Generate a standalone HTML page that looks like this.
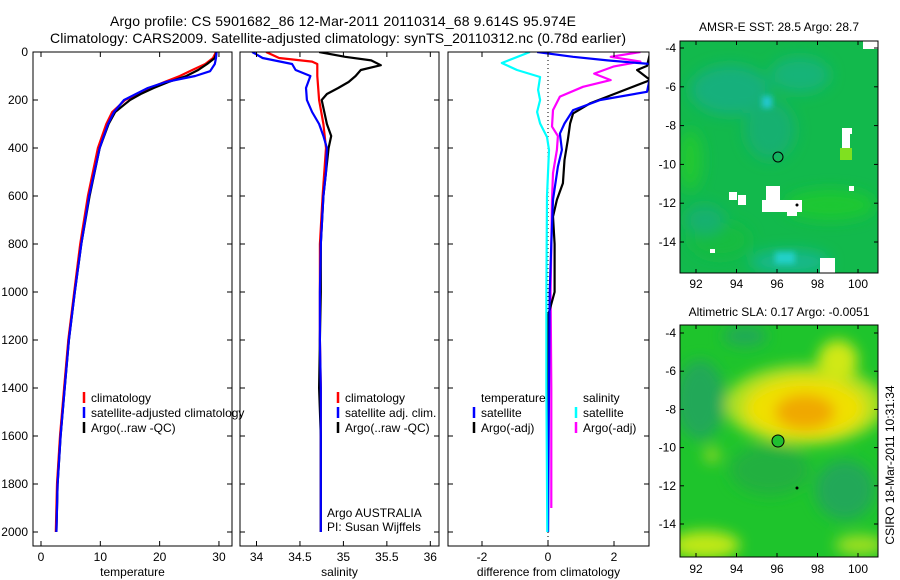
<!DOCTYPE html>
<html><head><meta charset="utf-8"><style>
body{margin:0;background:#fff}
svg{display:block;font-family:"Liberation Sans",sans-serif}
</style></head><body>
<svg id="fig" width="900" height="580" viewBox="0 0 900 580">
<text x="343" y="26" font-size="14" text-anchor="middle" textLength="466">Argo profile: CS 5901682_86 12-Mar-2011 20110314_68 9.614S 95.974E</text>
<text x="338" y="43" font-size="14" text-anchor="middle" textLength="576">Climatology: CARS2009. Satellite-adjusted climatology: synTS_20110312.nc (0.78d earlier)</text>
<g id="panels"></g>
<defs>
<clipPath id="c1"><rect x="680" y="41" width="198" height="232"/></clipPath>
<clipPath id="c2"><rect x="680" y="325" width="198" height="232"/></clipPath>
<filter id="bl" x="-50%" y="-50%" width="200%" height="200%"><feGaussianBlur stdDeviation="7"/></filter>
<filter id="bs" x="-50%" y="-50%" width="200%" height="200%"><feGaussianBlur stdDeviation="3"/></filter>
</defs>
<g clip-path="url(#c1)">
<rect x="680" y="41" width="198" height="232" fill="#12b94c"/>
<g filter="url(#bl)">
<ellipse cx="730" cy="90" rx="40" ry="25" fill="#12b07c"/>
<ellipse cx="800" cy="75" rx="30" ry="18" fill="#14b478"/>
<ellipse cx="770" cy="130" rx="25" ry="30" fill="#14b070"/>
<ellipse cx="690" cy="160" rx="12" ry="30" fill="#22c830"/>
<ellipse cx="830" cy="205" rx="45" ry="15" fill="#1cc830"/>
<ellipse cx="720" cy="240" rx="30" ry="18" fill="#18bc40"/>
<ellipse cx="790" cy="262" rx="40" ry="12" fill="#14b88c"/>
<ellipse cx="705" cy="220" rx="20" ry="15" fill="#14b070"/>
</g>
<rect x="762" y="96" width="10" height="12" fill="#20c8d0" filter="url(#bs)"/>
<rect x="775" y="252" width="20" height="12" fill="#20d0c8" filter="url(#bs)"/>
<rect x="840" y="148" width="12" height="12" fill="#80e020"/>
<g fill="#fff">
<rect x="842" y="128" width="8" height="20"/><rect x="848" y="128" width="4" height="6"/>
<rect x="766" y="186" width="14" height="24"/><rect x="762" y="200" width="40" height="12"/><rect x="787" y="200" width="10" height="16"/>
<rect x="729" y="192" width="8" height="8"/><rect x="738" y="195" width="8" height="10"/>
<rect x="820" y="258" width="15" height="15"/><rect x="849" y="186" width="5" height="5"/>
<rect x="710" y="249" width="5" height="4"/><rect x="863" y="41" width="15" height="8"/>
</g>
<circle cx="797" cy="205" r="1.5" fill="#000"/>
<circle cx="778" cy="157" r="5" fill="none" stroke="#000" stroke-width="1"/>
</g>
<rect x="680" y="41" width="198" height="232" fill="none" stroke="#000"/>
<text x="779" y="31" font-size="12" text-anchor="middle">AMSR-E SST: 28.5 Argo: 28.7</text>
<g clip-path="url(#c2)">
<rect x="680" y="325" width="198" height="232" fill="#1ec42c"/>
<g filter="url(#bl)">
<ellipse cx="700" cy="400" rx="25" ry="40" fill="#20a858"/>
<ellipse cx="745" cy="336" rx="22" ry="10" fill="#20a858"/>
<ellipse cx="845" cy="490" rx="30" ry="30" fill="#20a858"/>
<ellipse cx="770" cy="470" rx="40" ry="25" fill="#22b040"/>
<ellipse cx="805" cy="405" rx="80" ry="40" fill="#b0e020"/>
<ellipse cx="838" cy="360" rx="20" ry="20" fill="#d0e818"/>
<ellipse cx="805" cy="408" rx="60" ry="30" fill="#f0e000"/>
<ellipse cx="805" cy="412" rx="30" ry="18" fill="#f0a800"/>
<ellipse cx="705" cy="545" rx="35" ry="14" fill="#c0e818"/>
<ellipse cx="712" cy="455" rx="8" ry="8" fill="#90d820"/>
<ellipse cx="860" cy="545" rx="25" ry="10" fill="#a0e020"/>
</g>
<circle cx="797" cy="488" r="1.5" fill="#000"/>
<circle cx="778" cy="441" r="6" fill="#20c030" stroke="#000" stroke-width="1"/>
</g>
<rect x="680" y="325" width="198" height="232" fill="none" stroke="#000"/>
<text x="779" y="316" font-size="12" text-anchor="middle">Altimetric SLA: 0.17 Argo: -0.0051</text>
<text transform="translate(894,465) rotate(-90)" font-size="12" text-anchor="middle">CSIRO 18-Mar-2011 10:31:34</text>
<g id="mapticks"></g>
</svg>
<script>
const NS='http://www.w3.org/2000/svg';
const tempTicks=[0,10,20,30];
const salTicks=[34,34.5,35,35.5,36];
const diffTicks=[-2,0,2];
const depthTicks=[0,200,400,600,800,1000,1200,1400,1600,1800,2000];
// temperature
const tClimD=[0,25,50,75,100,125,150,175,200,250,300,400,600,800,1000,1200,1400,1600,1800,2000];
const tClimV=[29.5,29,27.7,25.5,23.4,20.8,18.4,16.2,14.2,12,11,9.6,7.9,6.6,5.6,4.6,3.9,3.2,2.7,2.5];
const tSatD=[0,25,50,80,100,125,150,175,200,250,300,400,600,800,1000,1200,1400,1600,1800,2000];
const tSatV=[29.6,29.5,29.3,28.5,26,21,18,16,14,12.3,11.3,9.9,8.1,6.8,5.7,4.7,4.0,3.3,2.8,2.6];
const tArgD=[0,25,50,75,100,125,150,175,200,250,300,400,600,800,1000,1200,1400,1600,1800,2000];
const tArgV=[29.6,29.3,28,26.5,24.5,21.5,19,16.8,15,12.5,11.4,9.9,8.2,6.8,5.7,4.7,4.0,3.3,2.8,2.6];
// salinity
const sClimD=[0,25,40,50,100,200,300,400,600,800,1000,1200,1400,1600,1800,2000];
const sClimV=[34.11,34.26,34.64,34.7,34.7,34.72,34.77,34.8,34.76,34.73,34.73,34.73,34.74,34.74,34.74,34.74];
const sSatD=[0,25,50,75,100,150,200,250,300,350,400,500,600,800,1000,1200,1400,1600,1800,2000];
const sSatV=[33.95,34.07,34.41,34.45,34.62,34.57,34.58,34.64,34.72,34.77,34.81,34.8,34.77,34.74,34.73,34.73,34.74,34.74,34.74,34.74];
const sArgD=[0,20,35,55,75,100,125,150,175,200,300,350,400,500,600,800,1000,1200,1400,1600,1800,2000];
const sArgV=[34.72,35.02,35.32,35.43,35.2,35.14,35.06,34.94,34.81,34.75,34.81,34.86,34.83,34.8,34.77,34.74,34.74,34.73,34.72,34.74,34.74,34.74];
// differences
const dTSatD=[0,20,35,50,100,166,200,242,298,340,408,477,616,800,1000,1400,2000];
const dTSatV=[-0.33,0.76,1.8,3.1,3.1,3.0,1.58,0.76,0.5,0.36,0.42,0.3,0.15,0.1,0.05,0.03,0.0];
const dTArgD=[0,58,75,117,186,214,256,298,367,450,547,616,686,800,1000,1100,1400,2000];
const dTArgV=[3.1,3.0,2.7,3.1,1.8,1.27,0.76,0.67,0.6,0.5,0.45,0.27,0.15,0.2,0.2,0.0,0.0,0.0];
const dSSatD=[0,46,75,104,158,200,250,298,354,408,600,1000,1400,2000];
const dSSatV=[-0.55,-1.4,-0.94,-0.24,-0.3,-0.24,-0.33,-0.24,-0.03,0.03,-0.03,-0.05,-0.05,-0.02];
const dSArgD=[0,20,40,60,90,117,145,186,242,311,350,408,505,616,1000,1400,1900];
const dSArgV=[2.8,1.9,2.8,2.0,1.4,1.9,1.06,0.36,0.15,0.12,0.3,0.27,0.15,0.12,0.08,0.1,0.1];
// maps
const mapLon=[92,94,96,98,100];
const mapLat=[-4,-6,-8,-10,-12,-14];

const svg=document.getElementById('panels');
const Y0=52,Y1=546,DMAX=2000,YD=532;
const yScale=d=>Y0+d*(YD-Y0)/DMAX;
function mk(tag,attrs,parent){const e=document.createElementNS(NS,tag);for(const k in attrs)e.setAttribute(k,attrs[k]);(parent||svg).appendChild(e);return e;}
function panel(name,x0,x1,xmin,xmax,ticks,label,series){
  const g=mk('g',{});
  
  
  const xs=v=>x0+(v-xmin)*(x1-x0)/(xmax-xmin);
  const cp=mk('clipPath',{id:'cp-'+name},g);mk('rect',{x:x0,y:Y0,width:x1-x0,height:Y1-Y0},cp);
  const lg=mk('g',{'clip-path':'url(#cp-'+name+')'},g);
  series.forEach(s=>{
    if(s.dotted){const l=mk('line',{x1:xs(0),x2:xs(0),y1:Y0,y2:Y1,stroke:'#000','stroke-dasharray':'1,3','stroke-width':1},lg);return;}
    const pts=s.d.map((d,i)=>xs(s.v[i]).toFixed(1)+','+yScale(d).toFixed(1)).join(' ');
    const p=mk('polyline',{points:pts,fill:'none',stroke:s.c,'stroke-width':2.2,'stroke-linejoin':'round'},lg);
    
    
  });
  mk('rect',{x:x0,y:Y0,width:x1-x0,height:Y1-Y0,fill:'none',stroke:'#000','stroke-width':1},g);
  ticks.forEach(t=>{const x=xs(t);
    mk('line',{x1:x,x2:x,y1:Y1,y2:Y1-5,stroke:'#000'},g);mk('line',{x1:x,x2:x,y1:Y0,y2:Y0+5,stroke:'#000'},g);
    const tx=mk('text',{x:x,y:561,'font-size':12,'text-anchor':'middle'},g);tx.textContent=t;
    
    
  });
  depthTicks.forEach(d=>{const y=yScale(d);
    mk('line',{x1:x0,x2:x0+5,y1:y,y2:y,stroke:'#000'},g);mk('line',{x1:x1,x2:x1-5,y1:y,y2:y,stroke:'#000'},g);
  });
  const al=mk('text',{x:(x0+x1)/2,y:576,'font-size':12,'text-anchor':'middle'},g);al.textContent=label;
  
  
  return g;
}
panel('temperature',33,232,-1.35,32.2,tempTicks,'temperature',[
 {d:tClimD,v:tClimV,c:'#f00',n:'temp-climatology-line'},{d:tArgD,v:tArgV,c:'#000',n:'temp-argo-line'},{d:tSatD,v:tSatV,c:'#00f',n:'temp-satellite-line'}]);
panel('salinity',240,439,33.81,36.1,salTicks,'salinity',[
 {d:sClimD,v:sClimV,c:'#f00',n:'sal-climatology-line'},{d:sArgD,v:sArgV,c:'#000',n:'sal-argo-line'},{d:sSatD,v:sSatV,c:'#00f',n:'sal-satellite-line'}]);
panel('difference',448,649,-3.03,3.06,diffTicks,'difference from climatology',[
 {dotted:true},{d:dSArgD,v:dSArgV,c:'#f0f',n:'sal-argo-diff-line'},{d:dTArgD,v:dTArgV,c:'#000',n:'temp-argo-diff-line'},{d:dTSatD,v:dTSatV,c:'#00f',n:'temp-satellite-diff-line'},{d:dSSatD,v:dSSatV,c:'#0ff',n:'sal-satellite-diff-line'}]);
depthTicks.forEach(d=>{const t=mk('text',{x:28,y:yScale(d)+4,'font-size':12,'text-anchor':'end'});t.textContent=d;
 
 });
function legend(x,y,items){items.forEach((it,i)=>{
  const yy=y+i*15;
  if(it.c){mk('line',{x1:x,x2:x,y1:yy-10,y2:yy+1,stroke:it.c,'stroke-width':2.5});}
  const t=mk('text',{x:x+7,y:yy,'font-size':12});t.textContent=it.t;
  
  
});}
legend(84,402,[{c:'#f00',t:'climatology'},{c:'#00f',t:'satellite-adjusted climatology'},{c:'#000',t:'Argo(..raw -QC)'}]);
legend(338,402,[{c:'#f00',t:'climatology'},{c:'#00f',t:'satellite adj. clim.'},{c:'#000',t:'Argo(..raw -QC)'}]);
legend(474,402,[{t:'temperature'},{c:'#00f',t:'satellite'},{c:'#000',t:'Argo(-adj)'}]);
legend(576,402,[{t:'salinity'},{c:'#0ff',t:'satellite'},{c:'#f0f',t:'Argo(-adj)'}]);
const a1=mk('text',{x:327,y:517,'font-size':12});a1.textContent='Argo AUSTRALIA';


const a2=mk('text',{x:327,y:531,'font-size':12});a2.textContent='PI: Susan Wijffels';


// map ticks
const mt=document.getElementById('mapticks');
const lonX=l=>696+(l-92)*20.25;
[[41,273,48,19.4,288],[325,557,333,19.1,573]].forEach(m=>{
  const [top,bot,y4,py,ly]=m;
  mapLon.forEach(l=>{const x=lonX(l);
    mk('line',{x1:x,x2:x,y1:bot,y2:bot-4,stroke:'#000'},mt);mk('line',{x1:x,x2:x,y1:top,y2:top+4,stroke:'#000'},mt);
    const t=mk('text',{x:x,y:ly,'font-size':12,'text-anchor':'middle'},mt);t.textContent=l;
    
    });
  mapLat.forEach(la=>{const y=y4+(-4-la)*py;
    mk('line',{x1:680,x2:684,y1:y,y2:y,stroke:'#000'},mt);mk('line',{x1:878,x2:874,y1:y,y2:y,stroke:'#000'},mt);
    const t=mk('text',{x:676,y:y+4,'font-size':12,'text-anchor':'end'},mt);t.textContent=la;
    
    });
});
</script>
</body></html>
